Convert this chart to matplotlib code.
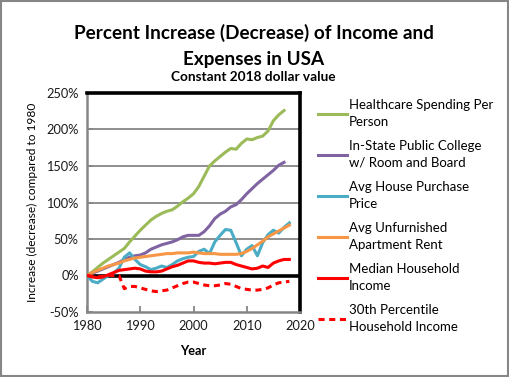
import matplotlib
matplotlib.use("Agg")
import matplotlib.pyplot as plt
from matplotlib.patches import Rectangle

years_a = list(range(1980, 2018))
years_b = list(range(1980, 2019))

healthcare = [0, 5, 11, 17, 22, 27, 32, 37, 46, 54, 62, 69, 76, 81, 85, 88, 90, 95, 101, 106,
              112, 122, 136, 150, 157, 163, 169, 174, 173, 181, 187, 186, 189, 191, 198, 212, 220, 226]
college = [0, 3, 6, 9, 12, 15, 18, 22, 25, 27, 28, 31, 36, 39, 42, 44, 46, 49, 53, 55,
           55, 55, 60, 68, 78, 84, 88, 94, 97, 104, 112, 119, 126, 132, 138, 144, 151, 155]
house = [0, -8, -10, -5, 0, 3, 10, 25, 31, 22, 15, 12, 8, 10, 13, 11, 15, 20, 23, 25,
         26, 33, 36, 30, 46, 55, 63, 62, 45, 27, 36, 41, 27, 45, 56, 62, 58, 66, 72]
rent = [0, 4, 7, 10, 13, 15, 17, 20, 22, 24, 25, 26, 27, 28, 29, 30, 30, 31, 31, 31,
        32, 31, 30, 30, 30, 29, 29, 29, 29, 30, 33, 37, 42, 47, 53, 57, 61, 65, 69]
median_income = [0, -2, -3, -2, 1, 4, 7, 8, 9, 10, 9, 6, 5, 5, 6, 9, 12, 14, 17, 20,
                 20, 18, 17, 17, 16, 17, 18, 18, 15, 13, 11, 9, 10, 13, 11, 17, 20, 22, 22]
p30_income = [0, -1, -2, -1, 0, 0, 0, -18, -15, -15, -17, -19, -21, -22, -21, -20, -17, -14, -11, -9,
              -9, -11, -13, -14, -14, -13, -11, -12, -15, -18, -19, -20, -20, -19, -17, -13, -10, -9, -8]

labels = ["Healthcare Spending Per\nPerson",
          "In-State Public College\nw/ Room and Board",
          "Avg House Purchase\nPrice",
          "Avg Unfurnished\nApartment Rent",
          "Median Household\nIncome",
          "30th Percentile\nHousehold Income"]
yticks = [-50, 0, 50, 100, 150, 200, 250]
xticks = [1980, 1990, 2000, 2010, 2020]

plt.rcParams['font.family'] = ['Lato', 'DejaVu Sans']

fig = plt.figure(figsize=(5.10, 3.77), dpi=100)
ax = fig.add_axes([87/510, 1-312/377, 213/510, 219/377])

lw = 2.2
ax.plot(years_a, healthcare, color="#9BBB59", lw=lw, label=labels[0], zorder=3)
ax.plot(years_a, college, color="#8064A2", lw=lw, label=labels[1], zorder=3)
ax.plot(years_b, house, color="#4BACC6", lw=lw, label=labels[2], zorder=3)
ax.plot(years_b, rent, color="#F79646", lw=lw, label=labels[3], zorder=3)
ax.plot(years_b, median_income, color="#FF0000", lw=lw, label=labels[4], zorder=4)
ax.plot(years_b, p30_income, color="#FF0000", lw=lw, ls=(0, (2.0, 1.5)), label=labels[5], zorder=4)

ax.axhline(0, color="black", lw=2.6, zorder=2)

ax.set_xlim(1980, 2020)
ax.set_ylim(-50, 250)
ax.set_xticks(xticks)
ax.set_yticks(yticks)
ax.set_yticklabels([f"{v}%" for v in yticks])
for v in [50, 100, 150, 200]:
    ax.axhline(v, color="#868686", lw=1.3, zorder=1)

ax.tick_params(axis="both", direction="in", color="#868686", labelsize=9.2,
               labelcolor="#1a1a1a", length=4, width=1.3)
ax.tick_params(axis="y", pad=6)
ax.tick_params(axis="x", pad=6)
ax.spines["left"].set_color("#868686")
ax.spines["left"].set_linewidth(1.8)
ax.spines["bottom"].set_color("#868686")
ax.spines["bottom"].set_linewidth(1.8)
ax.spines["top"].set_color("black")
ax.spines["top"].set_linewidth(2.6)
ax.spines["right"].set_color("black")
ax.spines["right"].set_linewidth(2.6)

ax.set_xlabel("Year", fontsize=9.2, fontweight="bold", labelpad=9)
ax.set_ylabel("Increase (decrease) compared to 1980", fontsize=8.6, labelpad=6)

fig.text(0.497, 1-33/377, "Percent Increase (Decrease) of Income and", ha="center", va="center",
         fontsize=13.6, fontweight="bold")
fig.text(0.497, 1-59/377, "Expenses in USA", ha="center", va="center",
         fontsize=13.6, fontweight="bold")
fig.text(0.497, 1-77/377, "Constant 2018 dollar value", ha="center", va="center",
         fontsize=9.8, fontweight="bold")

leg = ax.legend(loc="upper left", bbox_to_anchor=(318/510, 1-99/377), bbox_transform=fig.transFigure,
                frameon=False, fontsize=9.5, handlelength=2.2, handletextpad=0.15,
                labelspacing=0.95, borderaxespad=0, borderpad=0)
for t in leg.get_texts():
    t.set_color("#000000")
    t.set_linespacing(1.45)

fig.add_artist(Rectangle((0.002, 0.003), 0.995, 0.994, transform=fig.transFigure,
                         fill=False, edgecolor="#868686", lw=1.5))

fig.savefig("out.png", dpi=100)
